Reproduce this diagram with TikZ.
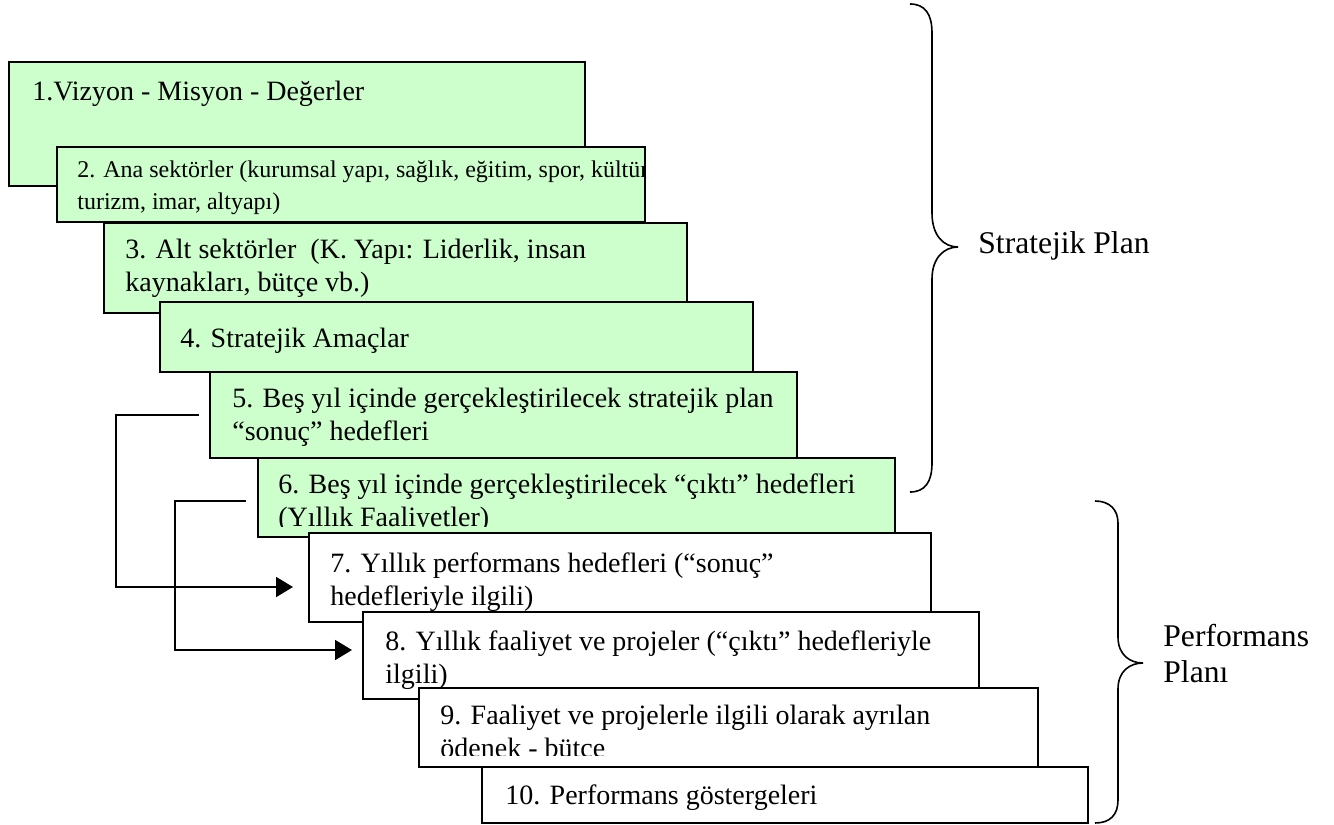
\documentclass[tikz,border=0pt]{standalone}
\usepackage{fontspec}
\setmainfont{Liberation Serif}
\usetikzlibrary{arrows.meta,fit}
\definecolor{boxgreen}{HTML}{CCFFCC}
\newcommand{\twolines}[2]{\begin{tabular}[t]{@{}l@{}}#1\\#2\end{tabular}}
\tikzset{
  gbox/.style={draw=black, line width=1pt, fill=boxgreen, inner sep=0pt},
  wbox/.style={draw=black, line width=1pt, fill=white, inner sep=0pt},
  btxt/.style={inner sep=0pt, anchor=base west, font=\fontsize{14}{16.5}\selectfont},
  stxt/.style={inner sep=0pt, anchor=base west, font=\fontsize{12}{16}\selectfont},
  conn/.style={line width=1pt, -{Triangle[length=8.5pt,width=10pt]}},
  bracepath/.style={line width=0.8pt},
  lbl/.style={inner sep=0pt, anchor=base west, font=\fontsize{15.8}{18}\selectfont},
}
\begin{document}
\begin{tikzpicture}[x=0.5pt,y=-0.5pt]
\useasboundingbox (0,0) rectangle (1334,825);
% 1
\node[gbox, fit={(9,62)(585,186)}] (b1) {};
\begin{scope}
\clip (9,62) rectangle (585,186);
\node[btxt] (t1) at (32,100) {1.Vizyon - Misyon - Değerler};
\end{scope}
% 2
\node[gbox, fit={(57,147)(645,222)}] (b2) {};
\begin{scope}
\clip (57,147) rectangle (644,219);
\node[stxt] (t2) at (77,177) {\twolines{2. Ana sektörler (kurumsal yapı, sağlık, eğitim, spor, kültür,}{turizm, imar, altyapı)}};
\end{scope}
% 3
\node[gbox, fit={(104,223)(687,313)}] (b3) {};
\begin{scope}
\clip (104,223) rectangle (686,303);
\node[btxt] (t3) at (125,258) {\twolines{3. Alt sektörler~~(K. Yapı: Liderlik, insan}{kaynakları, bütçe vb.)}};
\end{scope}
% 4
\node[gbox, fit={(160,302)(753,372)}] (b4) {};
\begin{scope}
\clip (160,302) rectangle (752,362);
\node[btxt] (t4) at (180,347) {4. Stratejik Amaçlar};
\end{scope}
% 5
\node[gbox, fit={(210,372)(797,458)}] (b5) {};
\begin{scope}
\clip (210,372) rectangle (796,448);
\node[btxt] (t5) at (232,407) {\twolines{5. Beş yıl içinde gerçekleştirilecek stratejik plan}{“sonuç” hedefleri}};
\end{scope}
% 6
\node[gbox, fit={(258,458)(895,537)}] (b6) {};
\begin{scope}
\clip (258,458) rectangle (894,526);
\node[btxt] (t6) at (278,493) {\twolines{6. Beş yıl içinde gerçekleştirilecek “çıktı” hedefleri}{(Yıllık Faaliyetler)}};
\end{scope}
% 7
\node[wbox, fit={(309,533)(931,622)}] (b7) {};
\begin{scope}
\clip (309,533) rectangle (930,612);
\node[btxt] (t7) at (330,572) {\twolines{7. Yıllık performans hedefleri (“sonuç”}{hedefleriyle ilgili)}};
\end{scope}
% 8
\node[wbox, fit={(363,612)(979,699)}] (b8) {};
\begin{scope}
\clip (363,612) rectangle (978,689);
\node[btxt] (t8) at (385,650) {\twolines{8. Yıllık faaliyet ve projeler (“çıktı” hedefleriyle}{ilgili)}};
\end{scope}
% 9
\node[wbox, fit={(419,688)(1038,767)}] (b9) {};
\begin{scope}
\clip (419,688) rectangle (1037,755);
\node[btxt] (t9) at (440,724) {\twolines{9. Faaliyet ve projelerle ilgili olarak ayrılan}{ödenek - bütçe}};
\end{scope}
% 10
\node[wbox, fit={(482,767)(1088,823)}] (b10) {};
\begin{scope}
\clip (482,767) rectangle (1087,823);
\node[btxt] (t10) at (505,804) {10. Performans göstergeleri};
\end{scope}
% connectors
\coordinate (s1) at (199,415); \coordinate (k1) at (116,587); \coordinate (e1) at (293,587);
\coordinate (s2) at (246,501); \coordinate (k2) at (175,650); \coordinate (e2) at (352,650);
\draw[conn] (s1) -| (k1) -- (e1);
\draw[conn] (s2) -| (k2) -- (e2);
% braces
\draw[bracepath] (910,4) .. controls (925,4) and (932,14) .. (932,33) -- (932,213)
  .. controls (932,236) and (944,247) .. (958,247)
  .. controls (944,247) and (932,258) .. (932,279) -- (932,463)
  .. controls (932,482) and (925,492) .. (910,492);
\draw[bracepath] (1095,501) .. controls (1110,501) and (1118,510) .. (1118,523) -- (1118,637)
  .. controls (1118,655) and (1130,663) .. (1143,663)
  .. controls (1130,663) and (1118,671) .. (1118,689) -- (1118,800)
  .. controls (1118,815) and (1110,823) .. (1095,823);
\node[lbl] (sp) at (978,253) {Stratejik Plan};
\node[lbl] (pp) at (1163,646) {\twolines{Performans}{Planı}};
\end{tikzpicture}
\end{document}
